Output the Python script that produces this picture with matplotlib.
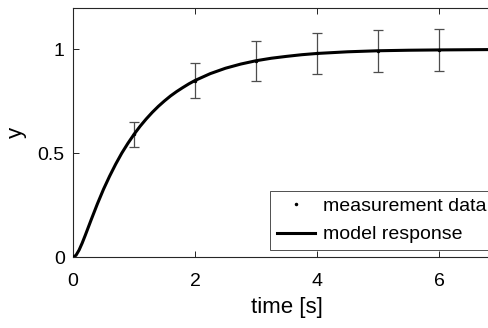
import matplotlib
matplotlib.use("Agg")
import matplotlib.pyplot as plt

plt.rcParams["font.family"] = ["Liberation Sans", "DejaVu Sans"]

# measurement data (t, y, error)
t_meas = [1, 2, 3, 4, 5, 6]
y_meas = [0.591, 0.850, 0.945, 0.980, 0.993, 0.997]
err_meas = [0.061, 0.086, 0.095, 0.097, 0.100, 0.100]

# model response
t_model = [0, 0.05, 0.1, 0.15, 0.2, 0.3, 0.4, 0.5, 0.6, 0.7, 0.8, 0.9, 1.0,
           1.1, 1.2, 1.3, 1.4, 1.5, 1.6, 1.7, 1.8, 1.9, 2.0, 2.25, 2.5, 2.75,
           3.0, 3.25, 3.5, 3.75, 4.0, 4.5, 5.0, 5.5, 6.0, 7.0]
y_model = [0, 0.010, 0.035, 0.068, 0.105, 0.182, 0.257, 0.327, 0.390, 0.448,
           0.501, 0.548, 0.591, 0.630, 0.665, 0.697, 0.726, 0.752, 0.776,
           0.797, 0.816, 0.834, 0.850, 0.883, 0.909, 0.929, 0.945, 0.957,
           0.966, 0.974, 0.980, 0.988, 0.993, 0.9955, 0.997, 0.999]

x_ticks = [0, 2, 4, 6]
y_ticks = [0, 0.5, 1]
y_tick_labels = ["0", "0.5", "1"]

W, H = 489, 328
fig = plt.figure(figsize=(W / 100, H / 100), dpi=100)
# axes extends past the right edge, like the reference crop
ax = fig.add_axes([73 / W, (H - 257.3) / H, 427 / W, 249.6 / H])

ax.errorbar(t_meas, y_meas, yerr=err_meas, fmt="none", ecolor="0.3",
            elinewidth=0.9, capsize=3.5, capthick=0.9, zorder=2)
ax.plot(t_meas, y_meas, ".", color="black", markersize=3,
        label="measurement data", zorder=3)
ax.plot(t_model, y_model, "-", color="black", lw=2.2,
        label="model response", zorder=4)

ax.set_xlim(0, 7)
ax.set_ylim(0, 1.2)
ax.set_xticks(x_ticks)
ax.set_yticks(y_ticks)
ax.set_yticklabels(y_tick_labels)
ax.tick_params(direction="in", length=4, width=0.6, labelsize=14,
               top=True, right=True)
ax.tick_params(axis="x", pad=11)
ax.tick_params(axis="y", pad=6)
for s in ax.spines.values():
    s.set_linewidth(0.8)
    s.set_color("0.15")

ax.set_xlabel("time [s]", fontsize=16, labelpad=5)
ax.set_ylabel("y", fontsize=16, labelpad=8)

leg = ax.legend(loc="lower right", bbox_to_anchor=(1 - 7 / 427, 7 / 249.6),
                fontsize=14, frameon=True, fancybox=False,
                handlelength=1.95, handletextpad=0.4, labelspacing=0.55,
                borderpad=0.35, borderaxespad=0)
leg.get_frame().set_edgecolor("black")
leg.get_frame().set_linewidth(0.6)

fig.savefig("out.png", dpi=100)
